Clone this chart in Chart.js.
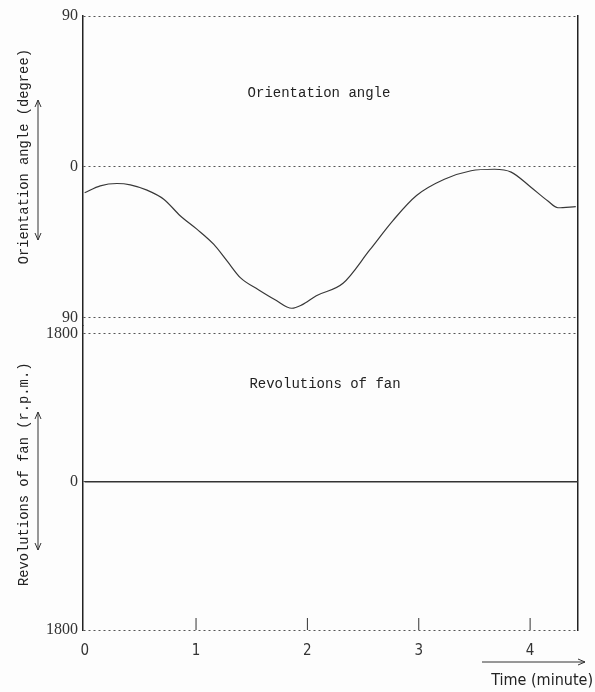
<!DOCTYPE html>
<html>
<head>
<meta charset="utf-8">
<script src="https://cdn.jsdelivr.net/npm/chart.js@4.4.1/dist/chart.umd.min.js"></script>
<style>
  html, body { margin: 0; padding: 0; background: #fff; }
  #wrap { width: 595px; height: 692px; }
</style>
</head>
<body>
<div id="wrap"><canvas id="myChart" width="595" height="692"></canvas></div>
<script>
// orientation angle (time in minutes, angle in degrees)
var angleTime = [0, 0.14, 0.29, 0.41, 0.56, 0.71, 0.86, 1.01, 1.16, 1.28, 1.40, 1.56, 1.71, 1.86, 1.95, 2.08, 2.32, 2.56, 2.77, 2.98, 3.23, 3.47, 3.68, 3.83, 4.01, 4.16, 4.25, 4.41];
var angleDeg = [-15.5, -11.4, -10, -10.8, -14, -19.4, -29.4, -37.4, -46.4, -56.4, -66.4, -73.4, -79.4, -84.5, -82.5, -77, -69.6, -49.7, -32, -17.2, -7.5, -2.4, -1.5, -3.2, -12.4, -20.5, -24.5, -23.8];

// fan stays at 0 r.p.m. the whole run
var fanTime = [0, 1, 2, 3, 4, 4.43];
var fanRpm = [0, 0, 0, 0, 0, 0];

var xTicks = [0, 1, 2, 3, 4];
var angleTicks = [90, 0, -90];
var rpmTicks = [1800, 0, -1800];

var typewriter = '"Liberation Mono", "DejaVu Sans Mono", monospace';
var narrow = '"Liberation Sans Narrow", "DejaVu Sans Condensed", sans-serif';

function toPoints(xs, ys) {
    return xs.map(function (x, i) { return { x: x, y: ys[i] }; });
}

function fixedTicks(list) {
    return function (scale) {
        scale.ticks = list.map(function (v) { return { value: v }; });
    };
}

var dotted = {
    display: true,
    color: '#555',
    lineWidth: 1,
    drawTicks: false
};

var paper = {
    id: 'paper',
    beforeDraw: function (chart) {
        var ctx = chart.ctx;
        ctx.save();
        ctx.fillStyle = '#fdfdfd';
        ctx.fillRect(0, 0, chart.width, chart.height);
        ctx.restore();
    },
    afterDraw: function (chart) {
        var ctx = chart.ctx;
        var area = chart.chartArea;
        var xs = chart.scales.x;
        var ya = chart.scales.yAngle;
        var yr = chart.scales.yRpm;

        function vText(txt, x, y) {
            ctx.save();
            ctx.translate(x, y);
            ctx.rotate(-Math.PI / 2);
            ctx.fillText(txt, 0, 0);
            ctx.restore();
        }
        function dArrow(x, y1, y2) {
            ctx.beginPath();
            ctx.moveTo(x, y1); ctx.lineTo(x, y2);
            ctx.moveTo(x - 3, y1 + 7); ctx.lineTo(x, y1); ctx.lineTo(x + 3, y1 + 7);
            ctx.moveTo(x - 3, y2 - 7); ctx.lineTo(x, y2); ctx.lineTo(x + 3, y2 - 7);
            ctx.stroke();
        }

        ctx.save();
        ctx.fillStyle = '#222';
        ctx.strokeStyle = '#333';
        ctx.lineWidth = 1;
        ctx.textAlign = 'center';
        ctx.textBaseline = 'middle';

        // captions inside each panel
        ctx.font = '14px ' + typewriter;
        ctx.fillText('Orientation angle', 319, ya.getPixelForValue(44));
        ctx.fillText('Revolutions of fan', 325, yr.getPixelForValue(1180));

        // rotated axis titles with their double arrows
        ctx.font = '13.8px ' + typewriter;
        vText('Orientation angle (degree)', 24, ya.getPixelForValue(6));
        vText('Revolutions of fan (r.p.m.)', 24, yr.getPixelForValue(90));
        dArrow(38, 100, 240);
        dArrow(38, 412, 550);

        // minute marks standing up from the bottom line
        xTicks.forEach(function (t) {
            if (t === 0) return;
            var px = xs.getPixelForValue(t);
            ctx.beginPath();
            ctx.moveTo(px, area.bottom);
            ctx.lineTo(px, area.bottom - 12);
            ctx.stroke();
        });

        // time arrow + label under the axis
        ctx.beginPath();
        ctx.moveTo(482, 662); ctx.lineTo(585, 662);
        ctx.moveTo(578, 659); ctx.lineTo(585, 662); ctx.lineTo(578, 665);
        ctx.stroke();
        ctx.font = '16px ' + narrow;
        ctx.textAlign = 'right';
        ctx.fillText('Time (minute)', 593, 681);
        ctx.restore();
    }
};

var ctx = document.getElementById('myChart').getContext('2d');
var myChart = new Chart(ctx, {
    type: 'line',
    data: {
        datasets: [{
            label: 'Orientation angle',
            data: toPoints(angleTime, angleDeg),
            yAxisID: 'yAngle',
            borderColor: '#383838',
            borderWidth: 1.2,
            pointRadius: 0,
            cubicInterpolationMode: 'monotone',
            fill: false
        }, {
            label: 'Revolutions of fan',
            data: toPoints(fanTime, fanRpm),
            yAxisID: 'yRpm',
            borderColor: '#333',
            borderWidth: 1.3,
            pointRadius: 0,
            fill: false
        }]
    },
    options: {
        responsive: false,
        animation: false,
        devicePixelRatio: 1,
        layout: { padding: { top: 16, right: 17, left: 0, bottom: 0 } },
        plugins: {
            legend: { display: false },
            tooltip: { enabled: false }
        },
        scales: {
            x: {
                type: 'linear',
                min: -0.015,
                max: 4.43,
                afterBuildTicks: fixedTicks(xTicks),
                afterFit: function (scale) { scale.height = 62; },
                grid: { display: false },
                border: { display: false },
                ticks: {
                    padding: 4,
                    color: '#333',
                    font: { family: narrow, size: 15 }
                }
            },
            // listed first so it lands in the lower half of the stack
            yRpm: {
                type: 'linear',
                position: 'left',
                stack: 'panels',
                stackWeight: 305,
                min: -1800,
                max: 1897,
                afterBuildTicks: fixedTicks(rpmTicks),
                afterFit: function (scale) { scale.width = 83; },
                grid: dotted,
                border: { display: true, color: '#222', width: 1.5, dash: [2, 3] },
                ticks: {
                    padding: 5,
                    color: '#333',
                    font: { family: '"Liberation Serif", serif', size: 16 },
                    callback: function (v) { return Math.abs(v); }
                }
            },
            yAngle: {
                type: 'linear',
                position: 'left',
                stack: 'panels',
                stackWeight: 310,
                min: -94.8,
                max: 90,
                afterBuildTicks: fixedTicks(angleTicks),
                afterFit: function (scale) { scale.width = 83; },
                grid: dotted,
                border: { display: true, color: '#222', width: 1.5, dash: [2, 3] },
                ticks: {
                    padding: 5,
                    color: '#333',
                    font: { family: '"Liberation Serif", serif', size: 16 },
                    callback: function (v) { return Math.abs(v); }
                }
            },
            yEdge: {
                type: 'linear',
                position: 'right',
                afterFit: function (scale) { scale.width = 0; },
                grid: { display: false, drawTicks: false },
                border: { display: true, color: '#222', width: 1.5 },
                ticks: { display: false }
            }
        }
    },
    plugins: [paper]
});
</script>
</body>
</html>
